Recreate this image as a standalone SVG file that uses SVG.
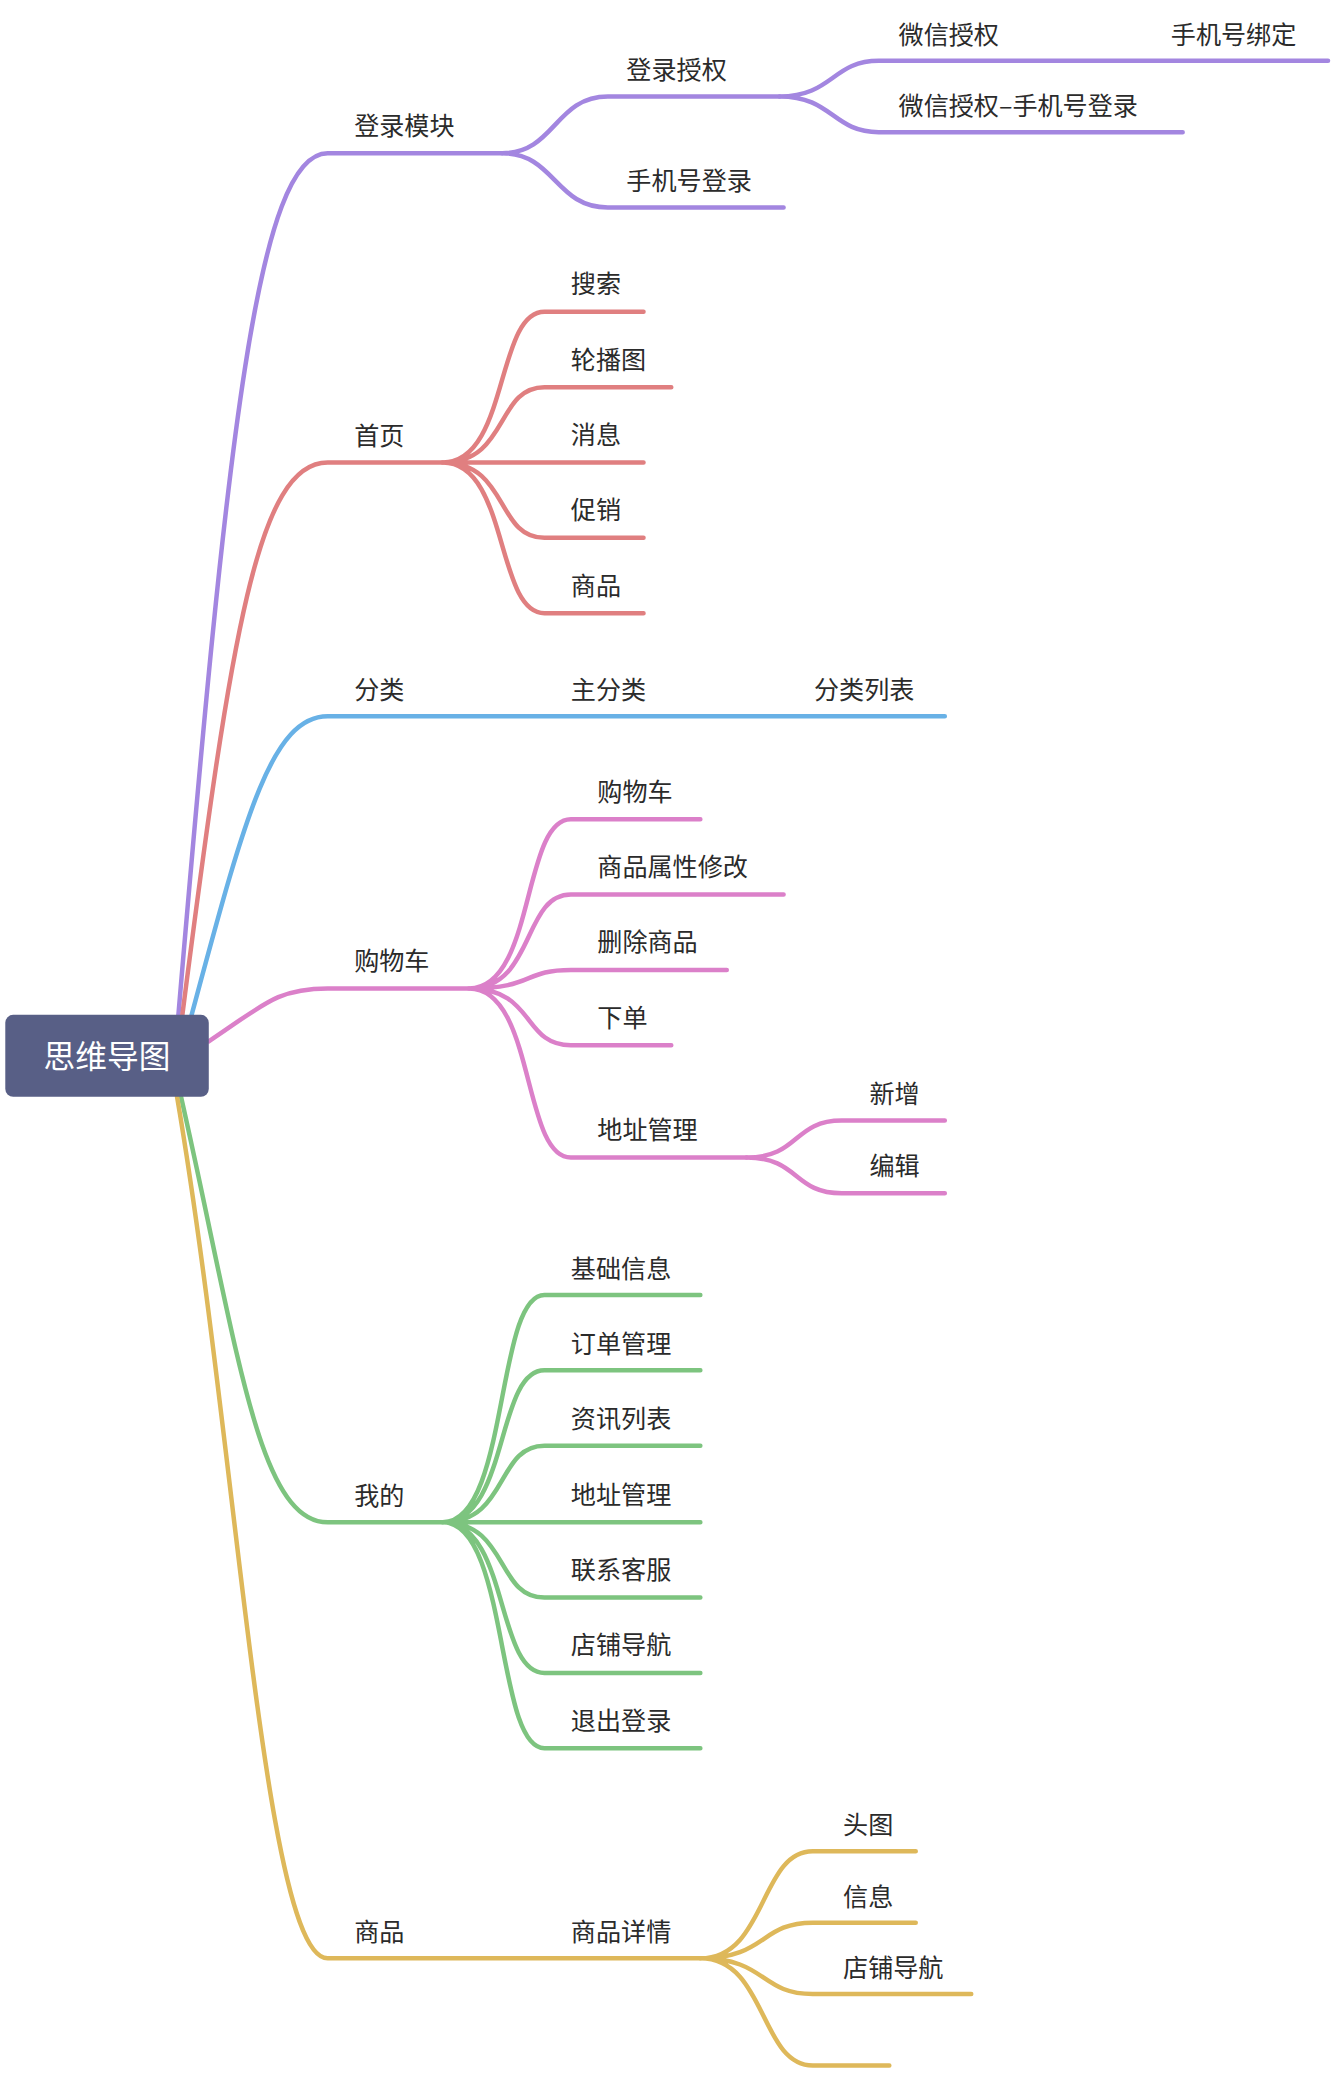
<svg xmlns="http://www.w3.org/2000/svg" width="1332" height="2076" viewBox="0 0 1332 2076">
<style>
text{font-family:"Noto Sans CJK SC","Noto Sans",sans-serif;font-size:19px;fill:#2b2b2b}
path{fill:none;stroke-width:3.4;stroke-linecap:round}
.p{stroke:#a386e0}.r{stroke:#e07f80}.b{stroke:#68b1e6}.k{stroke:#db80c9}.g{stroke:#7dc47f}.y{stroke:#deb85a}
</style>
<rect width="1332" height="2076" fill="#fff"/>
<g transform="scale(1.32143)">
<g id="connectors">
<path class="p" d="M135,768 C172,330 195,116 248,116 H380"/>
<path class="p" d="M380,116 C420,116 420,73 460,73 H590 M380,116 C420,116 420,157 460,157 H593"/>
<path class="p" d="M590,73 C630,73 630,46 665,46 H1005 M590,73 C630,73 630,100 665,100 H895"/>
<path class="r" d="M138,768 C175,480 195,350 248,350 H335"/>
<path class="r" d="M335,350 C385,350 375,236 412,236 H487 M335,350 C385,350 375,293 412,293 H508 M335,350 H487 M335,350 C385,350 375,407 412,407 H487 M335,350 C385,350 375,464 412,464 H487"/>
<path class="b" d="M145,768 C185,620 205,542 248,542 H715"/>
<path class="k" d="M158,788 C200,760 210,748 248,748 H355"/>
<path class="k" d="M355,748 C405,748 395,620 432,620 H530 M355,748 C405,748 395,677 432,677 H593 M355,748 C405,748 395,734 432,734 H550 M355,748 C405,748 395,791 432,791 H508 M355,748 C405,748 395,876 432,876 H565"/>
<path class="k" d="M565,876 C605,876 600,848 637,848 H715 M565,876 C605,876 600,903 637,903 H715"/>
<path class="g" d="M137,830 C180,1020 195,1152 248,1152 H335"/>
<path class="g" d="M335,1152 C385,1152 375,980 412,980 H530 M335,1152 C385,1152 375,1037 412,1037 H530 M335,1152 C385,1152 375,1094 412,1094 H530 M335,1152 H530 M335,1152 C385,1152 375,1209 412,1209 H530 M335,1152 C385,1152 375,1266 412,1266 H530 M335,1152 C385,1152 375,1323 412,1323 H530"/>
<path class="y" d="M134,830 C180,1100 200,1482 248,1482 H530"/>
<path class="y" d="M530,1482 C580,1482 575,1401 615,1401 H693 M530,1482 C580,1482 575,1455 615,1455 H693 M530,1482 C580,1482 575,1509 615,1509 H735 M530,1482 C580,1482 575,1563 615,1563 H673"/>
</g>
<g id="root"><rect x="4" y="768" width="154" height="62" rx="6" fill="#585f86"/><text x="81" y="808" text-anchor="middle" style="fill:#fff;font-size:24px">思维导图</text></g>
<g id="login"><text x="268" y="102">登录模块</text><text x="474" y="60">登录授权</text><text x="474" y="144">手机号登录</text><text x="680" y="33">微信授权</text><text x="886" y="33">手机号绑定</text><text x="680" y="87">微信授权–手机号登录</text></g>
<g id="home"><text x="268" y="337">首页</text><text x="432" y="222">搜索</text><text x="432" y="279">轮播图</text><text x="432" y="336">消息</text><text x="432" y="393">促销</text><text x="432" y="450">商品</text></g>
<g id="category"><text x="268" y="529">分类</text><text x="432" y="529">主分类</text><text x="616" y="529">分类列表</text></g>
<g id="cart"><text x="268" y="734">购物车</text><text x="452" y="606">购物车</text><text x="452" y="663">商品属性修改</text><text x="452" y="720">删除商品</text><text x="452" y="777">下单</text><text x="452" y="862">地址管理</text><text x="658" y="835">新增</text><text x="658" y="889">编辑</text></g>
<g id="mine"><text x="268" y="1139">我的</text><text x="432" y="967">基础信息</text><text x="432" y="1024">订单管理</text><text x="432" y="1081">资讯列表</text><text x="432" y="1138">地址管理</text><text x="432" y="1195">联系客服</text><text x="432" y="1252">店铺导航</text><text x="432" y="1309">退出登录</text></g>
<g id="goods"><text x="268" y="1469">商品</text><text x="432" y="1469">商品详情</text><text x="638" y="1388">头图</text><text x="638" y="1442">信息</text><text x="638" y="1496">店铺导航</text></g>
</g>
</svg>
